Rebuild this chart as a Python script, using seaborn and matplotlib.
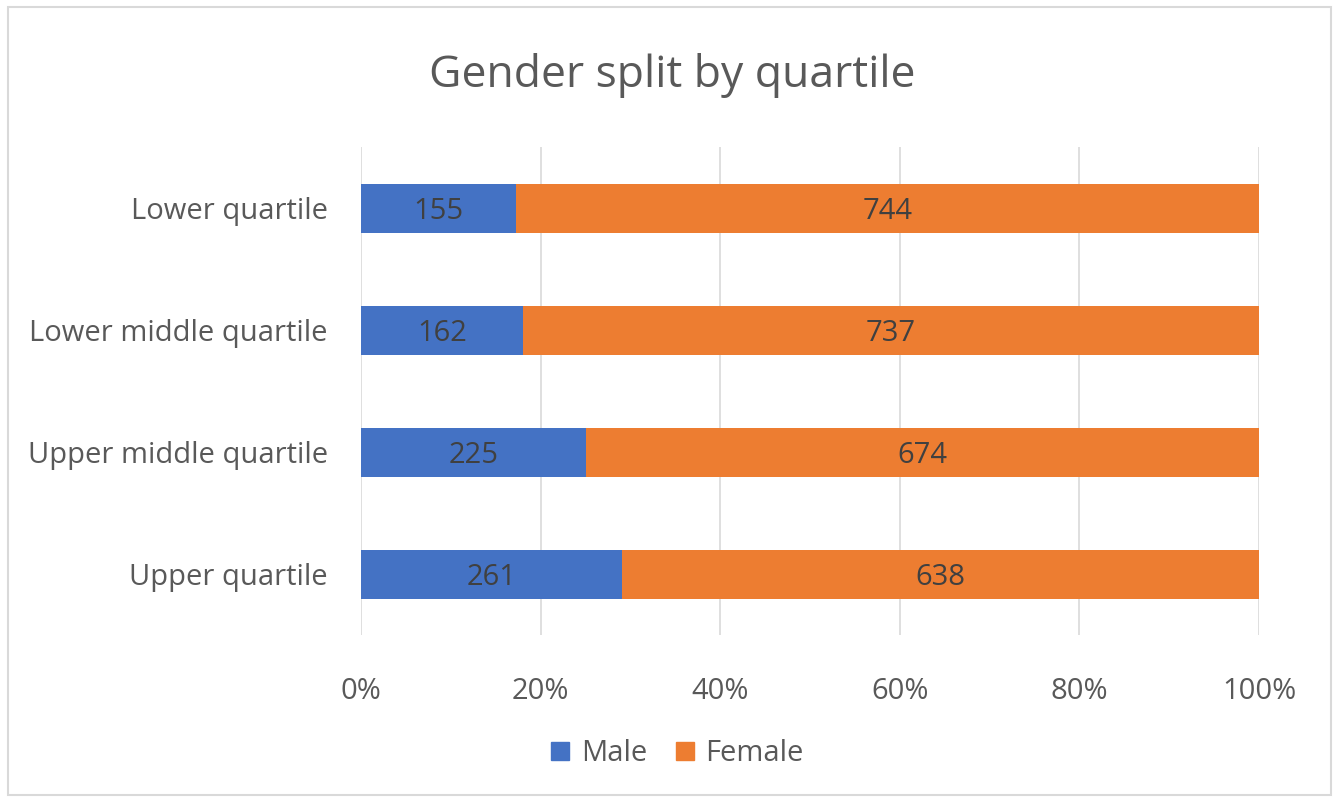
import numpy as np
import pandas as pd
import matplotlib
matplotlib.use("Agg")
import matplotlib.pyplot as plt
import seaborn as sns
from matplotlib.patches import Rectangle, Patch

# dados
quartiles = ["Lower quartile", "Lower middle quartile",
             "Upper middle quartile", "Upper quartile"]
male = [155, 162, 225, 261]
female = [744, 737, 674, 638]

BLUE = "#4472C4"
ORANGE = "#ED7D31"
TEXT = "#595959"
GRID = "#D9D9D9"

sns.set_style("white")
plt.rcParams["font.family"] = ["Open Sans", "DejaVu Sans"]

total = np.array(male) + np.array(female)
df = pd.DataFrame({
    "quartile": quartiles,
    "male_pct": np.array(male) / total * 100,
    "female_pct": np.array(female) / total * 100,
})
df["cum_pct"] = df["male_pct"] + df["female_pct"]

fig = plt.figure(figsize=(13.39, 8), dpi=100)
ax = fig.add_axes([0.2696, 0.206, 0.6707, 0.61])

# barra laranja (total) atrás, azul por cima
sns.barplot(data=df, y="quartile", x="cum_pct", orient="h", color=ORANGE,
            width=0.4, saturation=1, linewidth=0, ax=ax, zorder=2)
sns.barplot(data=df, y="quartile", x="male_pct", orient="h", color=BLUE,
            width=0.4, saturation=1, linewidth=0, ax=ax, zorder=3)

# rótulos
for i, row in df.iterrows():
    ax.text(row["male_pct"] / 2, i, str(male[i]), ha="center",
            va="center_baseline", fontsize=21, color="#404040", zorder=4)
    ax.text(row["male_pct"] + row["female_pct"] / 2, i, str(female[i]),
            ha="center", va="center_baseline", fontsize=21, color="#404040",
            zorder=4)

ax.set_xlim(0, 100)
ax.set_ylim(3.5, -0.5)
ax.set_xticks(range(0, 101, 20))
ax.set_xticklabels([f"{v}%" for v in range(0, 101, 20)])
ax.xaxis.grid(True, color=GRID, linewidth=1.2, zorder=0)
ax.set_axisbelow(True)
ax.tick_params(axis="both", length=0, labelsize=21, labelcolor=TEXT)
ax.tick_params(axis="x", pad=30)
ax.tick_params(axis="y", pad=24)
ax.set_xlabel("")
ax.set_ylabel("")
for s in ax.spines.values():
    s.set_visible(False)

fig.text(0.502, 0.905, "Gender split by quartile", ha="center", va="center",
         fontsize=32, color=TEXT)

handles = [Patch(color=BLUE, label="Male"), Patch(color=ORANGE, label="Female")]
fig.legend(handles=handles, loc="center", bbox_to_anchor=(0.506, 0.058), ncol=2,
           frameon=False, fontsize=21, labelcolor=TEXT, handlelength=0.6,
           handleheight=0.6, handletextpad=0.4, columnspacing=1.0)

fig.patches.append(Rectangle((0.006, 0.006), 0.988, 0.985, transform=fig.transFigure,
                             fill=False, edgecolor=GRID, linewidth=1.5))

fig.savefig("out.png", dpi=100)
